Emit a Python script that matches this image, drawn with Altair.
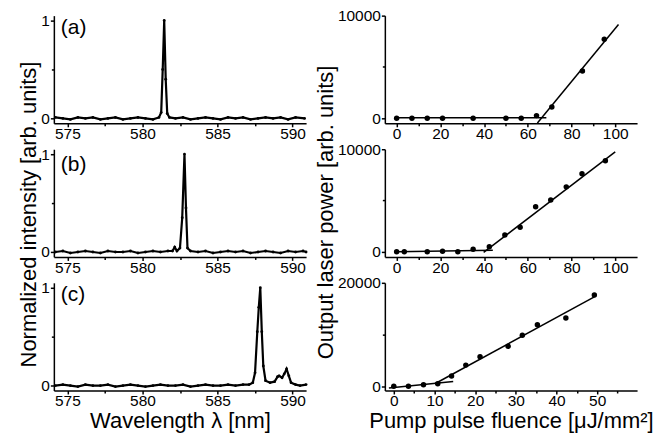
import altair as alt
import pandas as pd

FONT = "Liberation Sans"

# ---------------- spectra (left column) ----------------
wl_a = [574.2, 574.7, 575.2, 575.7, 576.2, 576.7, 577.2, 577.7, 578.2, 578.7, 579.2, 579.7, 580.2, 580.7,
        581.1, 581.25, 581.35, 581.45, 581.55, 581.65, 581.8,
        582.2, 582.7, 583.2, 583.7, 584.2, 584.7, 585.2, 585.7, 586.2, 586.7, 587.2, 587.7, 588.2, 588.7,
        589.2, 589.7, 590.2, 590.8]
int_a = [0.01, 0.0, -0.01, 0.01, 0.0, 0.01, -0.01, 0.0, 0.01, -0.01, 0.0, 0.01, 0.0, -0.01,
         0.01, 0.06, 0.5, 1.0, 0.4, 0.05, 0.01,
         0.0, 0.01, -0.01, 0.0, 0.01, 0.0, -0.01, 0.01, 0.0, 0.01, -0.01, 0.0, 0.01, 0.0,
         0.01, -0.01, 0.01, 0.0]

wl_b = [574.2, 574.7, 575.2, 575.7, 576.2, 576.7, 577.2, 577.7, 578.2, 578.7, 579.2, 579.7, 580.2, 580.7,
        581.2, 581.7,
        582.0, 582.15, 582.3, 582.5, 582.65, 582.8, 582.9, 583.0, 583.2,
        583.7, 584.2, 584.7, 585.2, 585.7, 586.2, 586.7, 587.2, 587.7, 588.2, 588.7, 589.2, 589.7, 590.2,
        590.7, 590.9]
int_b = [0.0, 0.01, -0.01, 0.0, 0.01, 0.0, -0.01, 0.01, 0.0, 0.0, 0.01, -0.01, 0.0, 0.01,
         0.0, 0.01,
         0.01, 0.05, 0.01, 0.04, 0.35, 1.0, 0.45, 0.04, 0.01,
         0.0, 0.01, -0.01, 0.0, 0.01, 0.0, 0.01, -0.01, 0.0, 0.01, 0.0, -0.01, 0.01, 0.0,
         0.01, 0.0]

wl_c = [574.2, 574.7, 575.2, 575.7, 576.2, 576.7, 577.2, 577.7, 578.2, 578.7, 579.2, 579.7, 580.2, 580.7,
        581.2, 581.7, 582.2, 582.7, 583.2, 583.7, 584.2, 584.7, 585.2, 585.7, 586.2, 586.7,
        587.1, 587.35, 587.5, 587.65, 587.75, 587.85, 587.95, 588.05, 588.2, 588.5, 588.8, 589.0,
        589.1, 589.3, 589.45, 589.6, 589.75, 589.9, 590.2, 590.5, 590.9]
int_c = [0.0, 0.01, 0.0, -0.01, 0.01, 0.0, 0.0, 0.01, -0.01, 0.0, 0.01, 0.0, -0.01, 0.0,
         0.01, 0.0, 0.0, 0.01, -0.01, 0.0, 0.01, 0.0, 0.0, 0.01, 0.0, 0.01,
         0.01, 0.03, 0.13, 0.55, 0.8, 1.0, 0.55, 0.2, 0.05, 0.03, 0.04, 0.09,
         0.1, 0.08, 0.12, 0.17, 0.1, 0.03, 0.01, 0.0, 0.01]

# ---------------- output power vs fluence (right column) ----------------
fluence_a = [0, 7, 14, 21, 35, 50, 57, 64, 71, 85, 95]
power_a = [0, 0, 0, 0, 0, 0, 0, 250, 1100, 4600, 7700]
fit_a_x = [0, 68.5, 64.4, 101.5]
fit_a_y = [30, 30, -470, 9140]

fluence_b = [0, 3.5, 14, 21, 28, 35, 42.4, 49.5, 56.5, 63.6, 70.5, 77.6, 84.8, 95.5]
power_b = [0, 0, 0, 50, 0, 250, 480, 1630, 2400, 4400, 5050, 6330, 7600, 8880]
fit_b_x = [0, 44, 39.8, 100]
fit_b_y = [0, 150, -60, 9740]

fluence_c = [0, 3.6, 7.3, 10.8, 14.2, 17.7, 21.2, 28.1, 31.6, 35.3, 42.3, 49.3]
power_c = [0, 0, 300, 500, 2000, 4100, 5700, 7750, 9850, 11900, 13200, 17650]
fit_c_x = [-1.2, 14.6, 10.1, 49.3]
fit_c_y = [-300, 950, 500, 17270]
fit_seg = [1, 1, 2, 2]

labels = ["(a)", "(b)", "(c)"]
label_y = [12, 16, 12]

W, H = 253, 108


def major_axis(orient, values, fmt=None, title=None, **kw):
    args = dict(orient=orient, values=values, tickSize=3.5, labelFlush=False, grid=False,
                labelPadding=(0 if orient == "bottom" else 1), title=title)
    if fmt:
        args["format"] = fmt
    args.update(kw)
    return alt.Axis(**args)


def minor_axis(orient, values):
    return alt.Axis(orient=orient, values=values, tickSize=2.5, labels=False, domain=False,
                    grid=False, title=None)


def spectrum_panel(wl, inten, label, ly, xtitle=None, ytitle=None):
    df = pd.DataFrame({"wl": wl, "v": inten})
    xs = alt.Scale(domain=[574.1, 590.9], nice=False, zero=False)
    ys = alt.Scale(domain=[-0.05, 1.05], nice=False, zero=False)
    xkw = {}
    if xtitle:
        xkw = dict(titleY=37, titleBaseline="alphabetic")
    ykw = {}
    if ytitle:
        ykw = dict(titleX=-18, titleY=65, titleAngle=270, titleAlign="center",
                   titleBaseline="alphabetic")
    line = alt.Chart(df).mark_line(
        color="black", strokeWidth=2.2,
        point=alt.OverlayMarkDef(filled=True, color="black", size=8)
    ).encode(
        x=alt.X("wl:Q", scale=xs, axis=major_axis("bottom", [575, 580, 585, 590], "d", xtitle, **xkw)),
        y=alt.Y("v:Q", scale=ys, axis=major_axis("left", [0, 1], "d", ytitle, **ykw)),
    )
    minor = alt.Chart(df).mark_point(opacity=0).encode(
        x=alt.X("wl:Q", scale=xs, axis=minor_axis("bottom", [577.5, 582.5, 587.5])),
        y=alt.Y("v:Q", scale=ys, axis=minor_axis("left", [0.5])),
    )
    txt = alt.Chart(pd.DataFrame({"t": [label]})).mark_text(
        font=FONT, fontSize=21, align="left", baseline="middle", color="black"
    ).encode(text="t:N", x=alt.value(7), y=alt.value(ly))
    return alt.layer(line, minor, txt).resolve_axis(x="independent", y="independent").properties(
        width=W, height=H)


def power_panel(fx, py, fitx, fity, xdom, xmaj, xmin, ydom, ymaj, ymin, xtitle=None, ytitle=None):
    pts = pd.DataFrame({"f": fx, "p": py})
    fit = pd.DataFrame({"f": fitx, "p": fity, "seg": fit_seg})
    xs = alt.Scale(domain=xdom, nice=False, zero=False)
    ys = alt.Scale(domain=ydom, nice=False, zero=False)
    xkw = {}
    if xtitle:
        xkw = dict(titleY=37, titleBaseline="alphabetic")
    ykw = {}
    if ytitle:
        ykw = dict(titleX=-53, titleY=63, titleAngle=270, titleAlign="center",
                   titleBaseline="alphabetic")
    dots = alt.Chart(pts).mark_circle(color="black", size=30, opacity=1).encode(
        x=alt.X("f:Q", scale=xs, axis=major_axis("bottom", xmaj, "d", xtitle, **xkw)),
        y=alt.Y("p:Q", scale=ys, axis=major_axis("left", ymaj, "d", ytitle, **ykw)),
    )
    lines = alt.Chart(fit).mark_line(color="black", strokeWidth=1.5).encode(
        x=alt.X("f:Q", scale=xs, axis=None),
        y=alt.Y("p:Q", scale=ys, axis=None),
        detail="seg:N",
    )
    minor = alt.Chart(pts).mark_point(opacity=0).encode(
        x=alt.X("f:Q", scale=xs, axis=minor_axis("bottom", xmin)),
        y=alt.Y("p:Q", scale=ys, axis=minor_axis("left", ymin)),
    )
    return alt.layer(dots, lines, minor).resolve_axis(x="independent", y="independent").properties(
        width=W, height=H)


xmaj_ab = [0, 20, 40, 60, 80, 100]
xmin_ab = [10, 30, 50, 70, 90]

panels = [
    spectrum_panel(wl_a, int_a, labels[0], label_y[0]),
    power_panel(fluence_a, power_a, fit_a_x, fit_a_y, [-5.4, 110], xmaj_ab, xmin_ab,
                [-500, 10000], [0, 10000], [5000]),
    spectrum_panel(wl_b, int_b, labels[1], label_y[1], ytitle="Normalized intensity [arb. units]"),
    power_panel(fluence_b, power_b, fit_b_x, fit_b_y, [-5.4, 110], xmaj_ab, xmin_ab,
                [-500, 10000], [0, 10000], [5000], ytitle="Output laser power [arb. units]"),
    spectrum_panel(wl_c, int_c, labels[2], label_y[2], xtitle="Wavelength λ [nm]"),
    power_panel(fluence_c, power_c, fit_c_x, fit_c_y, [-2.2, 59.8], [0, 10, 20, 30, 40, 50, 60],
                [5, 15, 25, 35, 45, 55], [-800, 20000], [0, 20000], [10000],
                xtitle="Pump pulse fluence [μJ/mm²]"),
]

chart = alt.concat(*panels, columns=2, spacing={"row": 26, "column": 79}, bounds="flush").properties(
    padding={"left": 9, "top": 0, "right": 5, "bottom": 5}
).configure(background="white").configure_view(stroke=None).configure_axis(
    domainColor="black", domainWidth=1.5, tickColor="black", tickWidth=1.5,
    labelFont=FONT, labelFontSize=15.5, labelColor="black",
    titleFont=FONT, titleFontSize=22, titleColor="black", titleFontWeight="normal",
)

chart.save("out.html", embed_options={"renderer": "svg", "actions": False})
